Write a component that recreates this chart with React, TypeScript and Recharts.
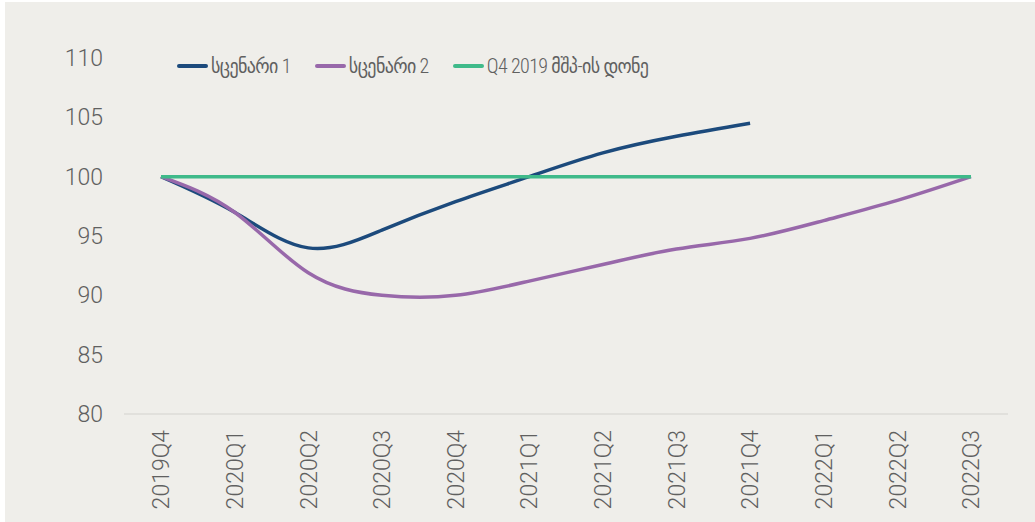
import React from 'react';
import { LineChart, Line, XAxis, YAxis, Legend } from 'recharts';

const categories = ['2019Q4', '2020Q1', '2020Q2', '2020Q3', '2020Q4', '2021Q1', '2021Q2', '2021Q3', '2021Q4', '2022Q1', '2022Q2', '2022Q3'];
const scenario1 = [100, 97.0, 94.0, 95.5, 97.9, 100.0, 102.0, 103.4, 104.5, null, null, null];
const scenario2 = [100, 97.0, 91.9, 90.0, 90.0, 91.2, 92.6, 93.9, 94.8, 96.3, 98.0, 100];
const q4Level = [100, 100, 100, 100, 100, 100, 100, 100, 100, 100, 100, 100];
const yTicks = [80, 85, 90, 95, 100, 105, 110];
const seriesNames = ['სცენარი 1', 'სცენარი 2', 'Q4 2019 მშპ-ის დონე'];
const seriesColors = ['#1c4a7c', '#9868aa', '#3fba8a'];

const data = categories.map((c, i) => ({
  cat: c,
  s1: scenario1[i],
  s2: scenario2[i],
  q4: q4Level[i],
}));

const FONT = "Roboto, 'DejaVu Sans Condensed', 'DejaVu Sans', sans-serif";
const TEXT = '#606060';

const XTick = (props: any) => {
  const { x, y, payload } = props;
  return (
    <g transform={`translate(${x},${y})`}>
      <text
        transform="rotate(-90)"
        x={-16}
        y={0}
        dy="0.36em"
        textAnchor="end"
        fill={TEXT}
        fontSize={23}
        fontWeight={300}
        fontFamily={FONT}
      >
        {payload.value}
      </text>
    </g>
  );
};

const LegendContent = (props: any) => {
  const order = ['s1', 's2', 'q4'];
  const payload = [...(props.payload || [])].sort(
    (a: any, b: any) => order.indexOf(a.dataKey) - order.indexOf(b.dataKey)
  );
  return (
    <div style={{ display: 'flex', alignItems: 'center', gap: 24, fontFamily: FONT }}>
      {payload.map((p: any) => (
        <div key={p.dataKey} style={{ display: 'flex', alignItems: 'center' }}>
          <div style={{ width: 31, height: 4, borderRadius: 2, background: p.color, marginRight: 3 }} />
          <span
            style={{
              fontSize: 20,
              fontWeight: 300,
              color: TEXT,
              fontStretch: 'condensed',
              letterSpacing: -0.6,
              whiteSpace: 'nowrap',
              lineHeight: '24px',
            }}
          >
            {p.value}
          </span>
        </div>
      ))}
    </div>
  );
};

export default function App() {
  return (
    <div style={{ position: 'absolute', left: 0, top: 0, width: 1035, height: 522, background: '#ffffff' }}>
      <div style={{ position: 'absolute', left: 5, top: 2, width: 1030, height: 520, background: '#efeeea' }} />
      <div style={{ position: 'absolute', left: 0, top: 0 }}>
        <LineChart width={1035} height={522} data={data} margin={{ top: 58, right: 27, bottom: 0, left: 0 }}>
          <XAxis
            dataKey="cat"
            interval={0}
            padding={{ left: 37, right: 37 }}
            tickLine={false}
            tickSize={0}
            tickMargin={0}
            height={108}
            axisLine={{ stroke: '#dcdbd7', strokeWidth: 1.5 }}
            tick={<XTick />}
          />
          <YAxis
            domain={[80, 110]}
            ticks={yTicks}
            interval={0}
            axisLine={false}
            tickLine={false}
            tickSize={0}
            tickMargin={21}
            width={124}
            tick={{ fill: TEXT, fontSize: 23, fontWeight: 300, fontFamily: FONT }}
          />
          <Legend
            layout="horizontal"
            verticalAlign="middle"
            align="center"
            content={<LegendContent />}
            wrapperStyle={{ position: 'absolute', left: 177, top: 54, width: 'auto' }}
          />
          <Line
            dataKey="s1"
            name={seriesNames[0]}
            stroke={seriesColors[0]}
            strokeWidth={3.5}
            type="natural"
            dot={false}
            activeDot={false}
            connectNulls={false}
            isAnimationActive={false}
          />
          <Line
            dataKey="s2"
            name={seriesNames[1]}
            stroke={seriesColors[1]}
            strokeWidth={3.5}
            type="natural"
            dot={false}
            activeDot={false}
            isAnimationActive={false}
          />
          <Line
            dataKey="q4"
            name={seriesNames[2]}
            stroke={seriesColors[2]}
            strokeWidth={3.5}
            type="linear"
            dot={false}
            activeDot={false}
            isAnimationActive={false}
          />
        </LineChart>
      </div>
    </div>
  );
}
